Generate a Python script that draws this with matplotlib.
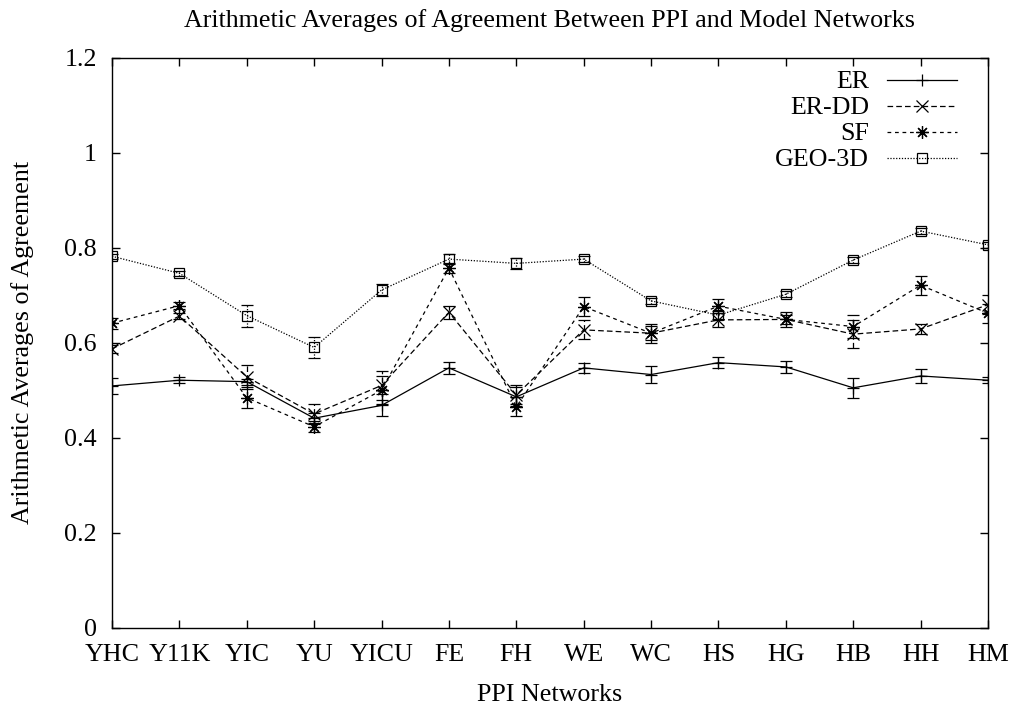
import matplotlib
matplotlib.use("Agg")
import matplotlib.pyplot as plt
from matplotlib.lines import Line2D
import numpy as np

plt.rcParams['font.family'] = ['Liberation Serif', 'DejaVu Serif']
FS = 18.7
plt.rcParams['font.size'] = FS

categories = ["YHC", "Y11K", "YIC", "YU", "YICU", "FE", "FH", "WE", "WC", "HS", "HG", "HB", "HH", "HM"]

er     = [0.509, 0.521, 0.518, 0.441, 0.468, 0.547, 0.486, 0.547, 0.533, 0.558, 0.549, 0.505, 0.530, 0.521]
er_err = [0.016, 0.006, 0.006, 0.012, 0.023, 0.012, 0.020, 0.010, 0.018, 0.012, 0.013, 0.021, 0.014, 0.006]

er_dd     = [0.587, 0.656, 0.528, 0.450, 0.510, 0.664, 0.490, 0.627, 0.620, 0.648, 0.649, 0.618, 0.629, 0.680]
er_dd_err = [0.008, 0.006, 0.025, 0.020, 0.030, 0.014, 0.020, 0.020, 0.020, 0.015, 0.010, 0.030, 0.010, 0.020]

sf     = [0.641, 0.678, 0.484, 0.423, 0.500, 0.757, 0.465, 0.676, 0.620, 0.677, 0.649, 0.634, 0.721, 0.662]
sf_err = [0.012, 0.008, 0.022, 0.012, 0.030, 0.010, 0.020, 0.020, 0.015, 0.015, 0.015, 0.025, 0.020, 0.020]

geo     = [0.782, 0.746, 0.657, 0.590, 0.711, 0.776, 0.767, 0.776, 0.688, 0.658, 0.702, 0.774, 0.835, 0.806]
geo_err = [0.005, 0.005, 0.023, 0.022, 0.012, 0.010, 0.012, 0.006, 0.006, 0.008, 0.006, 0.006, 0.006, 0.006]

labels = ["ER", "ER-DD", "SF", "GEO-3D"]

W, H = 1015, 707
fig = plt.figure(figsize=(W / 100, H / 100), dpi=100)
ax = fig.add_axes([112 / W, 1 - 627.7 / H, (988 - 112) / W, (627.7 - 57.7) / H])

x = np.arange(len(categories))

styles = [
    dict(ls='-', marker='+', ms=8, mfc='k'),
    dict(ls=(0, (4.5, 2.5)), marker='x', ms=8, mfc='k'),
    dict(ls=(0, (3, 3)), marker=(8, 2, 0), ms=9, mfc='k'),
    dict(ls=(0, (1, 1.3)), marker='s', ms=7, mfc='none'),
]
series = [(er, er_err), (er_dd, er_dd_err), (sf, sf_err), (geo, geo_err)]

for (vals, errs), st, lab in zip(series, styles, labels):
    eb = ax.errorbar(x, vals, yerr=errs, color='k', lw=0.9, ls=st['ls'],
                     marker=st['marker'], ms=st['ms'], mfc=st['mfc'], mec='k', mew=0.9,
                     capsize=4.5, elinewidth=0.9, capthick=0.9, label=lab)
    eb.lines[2][0].set_linestyle(st['ls'])

ax.set_xlim(0, len(categories) - 1)
ax.set_ylim(0, 1.2)
ax.set_xticks(x)
ax.set_xticklabels(categories)
ax.set_yticks([0, 0.2, 0.4, 0.6, 0.8, 1.0, 1.2])
ax.set_yticklabels(["0", "0.2", "0.4", "0.6", "0.8", "1", "1.2"])
ax.tick_params(direction='in', length=6, width=1, top=True, right=True, labelsize=FS)
ax.tick_params(axis='x', pad=12)
ax.tick_params(axis='y', pad=11)
for s in ax.spines.values():
    s.set_linewidth(1.0)

fig.text(550 / W, 1 - 27 / H, "Arithmetic Averages of Agreement Between PPI and Model Networks",
         ha='center', va='baseline', fontsize=FS)
fig.text(550 / W, 1 - 701 / H, "PPI Networks", ha='center', va='baseline', fontsize=FS)
fig.text(23 / W, 1 - 342.7 / H, "Arithmetic Averages of Agreement", ha='center', va='center',
         rotation=90, fontsize=FS)

# key (gnuplot style: right-aligned labels, samples to the right)
for i, (lab, st) in enumerate(zip(labels, styles)):
    yl = 80 + 26 * i
    fig.text(869 / W, 1 - (yl + 8) / H, lab, ha='right', va='baseline', fontsize=FS)
    fig.add_artist(Line2D([887 / W, 957 / W], [1 - yl / H, 1 - yl / H], transform=fig.transFigure,
                          color='k', lw=0.9, ls=st['ls']))
    fig.add_artist(Line2D([922 / W], [1 - yl / H], transform=fig.transFigure, ls='none',
                          marker=st['marker'], ms=st['ms'], mfc=st['mfc'], mec='k', mew=0.9))

fig.savefig("out.png", dpi=100)
